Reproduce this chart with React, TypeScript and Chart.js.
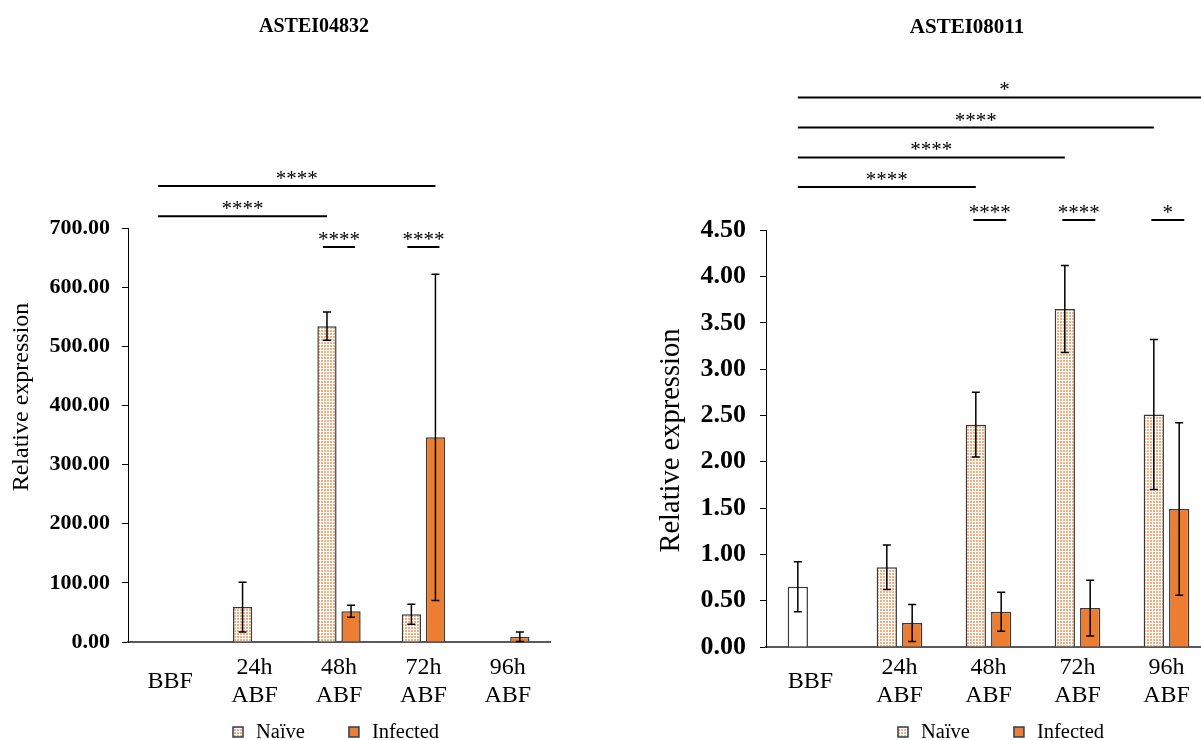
import React, { useEffect, useRef } from "react";
import { Chart, registerables } from "chart.js";
Chart.register(...registerables);

const FONT = "'Liberation Serif', 'Times New Roman', serif";
const ORANGE = "#ED7D31";
const EDGE = "#3A3A3A";

const categories: (string | string[])[] = ["BBF", ["24h", "ABF"], ["48h", "ABF"], ["72h", "ABF"], ["96h", "ABF"]];
const seriesNames = ["Naïve", "Infected"];
const yTitle = "Relative expression";

// ASTEI04832
const naiveA = [1, 59, 534, 47, 1];
const naiveErrA = [0, 42, 24, 17, 0];
const infectedA = [null, 1, 52, 346, 9];
const infectedErrA = [0, 0, 10, 276, 8];
const ticksA = { max: 700, step: 100 };

// ASTEI08011
const naiveB = [0.65, 0.86, 2.4, 3.65, 2.51];
const naiveErrB = [0.27, 0.24, 0.35, 0.47, 0.81];
const infectedB = [null, 0.26, 0.38, 0.42, 1.49];
const infectedErrB = [0, 0.2, 0.21, 0.3, 0.93];
const ticksB = { max: 4.5, step: 0.5 };

// significance brackets: [from category coord, to category coord, level value, label]
const N = -0.1425;
const I = 0.1425;
const sigA: [number, number, number, string][] = [
  [0 + N, 3 + I, 771, "****"],
  [0 + N, 2 + N, 720, "****"],
  [2 - 0.19, 2 + 0.19, 668, "****"],
  [3 - 0.19, 3 + 0.19, 668, "****"],
];
const sigB: [number, number, number, string][] = [
  [0 + N, 4.5, 5.934, "*"],
  [0 + N, 4 + N, 5.608, "****"],
  [0 + N, 3 + N, 5.285, "****"],
  [0 + N, 2 + N, 4.966, "****"],
  [2 - 0.17, 2 + 0.2, 4.61, "****"],
  [3 - 0.17, 3 + 0.2, 4.61, "****"],
  [4 - 0.17, 4 + 0.2, 4.61, "*"],
];

function makePattern(): CanvasPattern | string {
  const c = document.createElement("canvas");
  c.width = 3;
  c.height = 3;
  const g = c.getContext("2d");
  if (!g) return "#F8CBAD";
  g.fillStyle = "#ffffff";
  g.fillRect(0, 0, 3, 3);
  g.fillStyle = "#F6AE80";
  g.fillRect(0, 0, 2, 2);
  return g.createPattern(c, "repeat") || "#F8CBAD";
}

const errorBars = {
  id: "errorBars",
  afterDatasetsDraw(chart: any) {
    const ctx = chart.ctx;
    const y = chart.scales.y;
    chart.data.datasets.forEach((ds: any, di: number) => {
      const meta = chart.getDatasetMeta(di);
      meta.data.forEach((el: any, j: number) => {
        const v = ds.data[j];
        const e = ds.errors ? ds.errors[j] : 0;
        if (v == null || !e) return;
        const x = el.x;
        const yt = y.getPixelForValue(v + e);
        const yb = y.getPixelForValue(Math.max(v - e, 0));
        ctx.save();
        ctx.strokeStyle = "#000";
        ctx.lineWidth = 1.5;
        ctx.beginPath();
        ctx.moveTo(x, yt);
        ctx.lineTo(x, yb);
        ctx.moveTo(x - 4, yt);
        ctx.lineTo(x + 4, yt);
        ctx.moveTo(x - 4, yb);
        ctx.lineTo(x + 4, yb);
        ctx.stroke();
        ctx.restore();
      });
    });
  },
};

const sigPlugin = {
  id: "sigBars",
  afterDraw(chart: any, _args: any, opts: any) {
    const items = opts.items || [];
    const ctx = chart.ctx;
    const xs = chart.scales.x;
    const ys = chart.scales.y;
    ctx.save();
    items.forEach((it: [number, number, number, string]) => {
      const x1 = xs.getPixelForValue(it[0]);
      const x2 = xs.getPixelForValue(it[1]);
      const yy = ys.getPixelForValue(it[2]);
      ctx.strokeStyle = "#000";
      ctx.lineWidth = 2;
      ctx.beginPath();
      ctx.moveTo(x1, yy);
      ctx.lineTo(x2, yy);
      ctx.stroke();
      ctx.fillStyle = "#000";
      ctx.font = `21px ${FONT}`;
      ctx.textAlign = "center";
      ctx.textBaseline = "alphabetic";
      ctx.fillText(it[3], (x1 + x2) / 2, yy - 1);
    });
    ctx.restore();
  },
};

// y-axis title drawn next to the axis (offset along the axis allowed)
const axisTitle = {
  id: "axisTitle",
  afterDraw(chart: any, _args: any, opts: any) {
    const ctx = chart.ctx;
    const area = chart.chartArea;
    ctx.save();
    ctx.translate(opts.x, (area.top + area.bottom) / 2 + (opts.dy || 0));
    ctx.rotate(-Math.PI / 2);
    ctx.fillStyle = "#000";
    ctx.font = `${opts.size}px ${FONT}`;
    ctx.textAlign = "center";
    ctx.textBaseline = "middle";
    ctx.fillText(opts.text, 0, 0);
    ctx.restore();
  },
};

// legend with square swatches, built from the datasets
const swatchLegend = {
  id: "swatchLegend",
  afterDraw(chart: any, _args: any, opts: any) {
    const ctx = chart.ctx;
    ctx.save();
    ctx.font = `20.5px ${FONT}`;
    ctx.textBaseline = "middle";
    ctx.textAlign = "left";
    let x = opts.x;
    const y = opts.y;
    chart.data.datasets.forEach((ds: any) => {
      const fill = Array.isArray(ds.backgroundColor) ? ds.backgroundColor[ds.backgroundColor.length - 1] : ds.backgroundColor;
      ctx.fillStyle = fill;
      ctx.fillRect(x, y - 5, 10, 10);
      ctx.strokeStyle = "#2E3D5C";
      ctx.lineWidth = 1.5;
      ctx.strokeRect(x, y - 5, 10, 10);
      ctx.fillStyle = "#000";
      ctx.fillText(ds.label, x + 23, y + 1);
      x += 23 + ctx.measureText(ds.label).width + 44;
    });
    ctx.restore();
  },
};

type Cfg = {
  title: string;
  titleSize: number;
  naive: (number | null)[];
  naiveErr: number[];
  infected: (number | null)[];
  infectedErr: number[];
  ticks: { max: number; step: number };
  tickSize: number;
  catSize: number;
  yAxisWidth: number;
  rightWidth: number;
  xAxisHeight: number;
  bottomPad: number;
  titleBottom: number;
  yTitle: { x: number; dy: number; size: number };
  legendX: number;
  xTickPad: number;
  yTickPad: number;
  sig: [number, number, number, string][];
};

function build(canvas: HTMLCanvasElement, c: Cfg) {
  const pattern = makePattern();
  const naiveColors = c.naive.map((_, i) => (i === 0 ? "#ffffff" : pattern));
  return new Chart(canvas, {
    type: "bar",
    data: {
      labels: categories,
      datasets: [
        {
          label: seriesNames[0],
          data: c.naive,
          errors: c.naiveErr,
          backgroundColor: naiveColors,
          borderColor: EDGE,
          borderWidth: 1.5,
          categoryPercentage: 0.57,
          barPercentage: 0.8,
        } as any,
        {
          label: seriesNames[1],
          data: c.infected,
          errors: c.infectedErr,
          backgroundColor: ORANGE,
          borderColor: EDGE,
          borderWidth: 1.5,
          categoryPercentage: 0.57,
          barPercentage: 0.8,
        } as any,
      ],
    },
    options: {
      responsive: false,
      animation: false,
      devicePixelRatio: 1,
      layout: { padding: { left: 0, right: 0, top: 0, bottom: c.bottomPad } },
      plugins: {
        title: {
          display: true,
          text: c.title,
          color: "#000",
          font: { family: FONT, size: c.titleSize, weight: "bold" },
          padding: { top: 15, bottom: c.titleBottom },
        },
        legend: { display: false },
        tooltip: { enabled: false },
        sigBars: { items: c.sig },
        axisTitle: { text: yTitle, x: c.yTitle.x, dy: c.yTitle.dy, size: c.yTitle.size },
        swatchLegend: { x: c.legendX, y: 732 },
      } as any,
      scales: {
        x: {
          grid: { display: false, drawTicks: false },
          border: { display: true, color: "#595959", width: 2 },
          ticks: {
            color: "#000",
            crossAlign: "center",
            padding: c.xTickPad,
            maxRotation: 0,
            autoSkip: false,
            font: { family: FONT, size: c.catSize, lineHeight: 1.15 },
          },
          afterFit: (s: any) => {
            s.height = c.xAxisHeight;
          },
        },
        y: {
          min: 0,
          max: c.ticks.max,
          grid: { display: true, drawOnChartArea: false, drawTicks: true, tickLength: 6, color: "#000", lineWidth: 1 },
          border: { display: true, color: "#000", width: 1 },
          ticks: {
            stepSize: c.ticks.step,
            color: "#000",
            padding: c.yTickPad,
            font: { family: FONT, size: c.tickSize, weight: "bold" },
            callback: (v: any) => Number(v).toFixed(2),
          },
          afterFit: (s: any) => {
            s.width = c.yAxisWidth;
          },
        },
        yPad: {
          position: "right",
          display: true,
          grid: { display: false, drawTicks: false },
          border: { display: false },
          ticks: { display: false },
          afterFit: (s: any) => {
            s.width = c.rightWidth;
          },
        },
      },
    },
    plugins: [errorBars, sigPlugin, axisTitle, swatchLegend],
  } as any);
}

export default function App() {
  const leftRef = useRef<HTMLCanvasElement>(null);
  const rightRef = useRef<HTMLCanvasElement>(null);
  useEffect(() => {
    const charts: Chart[] = [];
    if (leftRef.current) {
      charts.push(
        build(leftRef.current, {
          title: "ASTEI04832",
          titleSize: 20,
          naive: naiveA,
          naiveErr: naiveErrA,
          infected: infectedA,
          infectedErr: infectedErrA,
          ticks: ticksA,
          tickSize: 22,
          catSize: 24,
          yAxisWidth: 128,
          rightWidth: 78,
          xAxisHeight: 72,
          bottomPad: 26,
          titleBottom: 189,
          yTitle: { x: 22, dy: -38, size: 24 },
          legendX: 233,
          xTickPad: 26,
          yTickPad: 12,
          sig: sigA,
        })
      );
    }
    if (rightRef.current) {
      charts.push(
        build(rightRef.current, {
          title: "ASTEI08011",
          titleSize: 21,
          naive: naiveB,
          naiveErr: naiveErrB,
          infected: infectedB,
          infectedErr: infectedErrB,
          ticks: ticksB,
          tickSize: 26,
          catSize: 24,
          yAxisWidth: 126,
          rightWidth: 83,
          xAxisHeight: 67,
          bottomPad: 26,
          titleBottom: 190,
          yTitle: { x: 32, dy: 2, size: 28.5 },
          legendX: 258,
          xTickPad: 21,
          yTickPad: 14,
          sig: sigB,
        })
      );
    }
    return () => charts.forEach((ch) => ch.destroy());
  }, []);
  return (
    <div style={{ position: "fixed", left: 0, top: 0, width: 1201, height: 740, overflow: "hidden", background: "#fff" }}>
      <canvas ref={leftRef} width={628} height={740} style={{ position: "absolute", left: 0, top: 0, width: 628, height: 740 }} />
      <canvas ref={rightRef} width={654} height={740} style={{ position: "absolute", left: 640, top: 0, width: 654, height: 740 }} />
    </div>
  );
}
